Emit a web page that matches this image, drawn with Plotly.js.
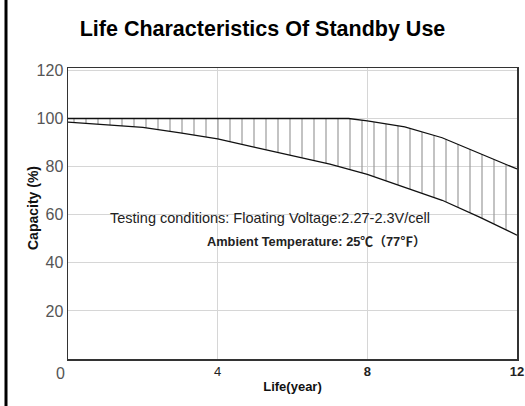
<!DOCTYPE html>
<html>
<head>
<meta charset="utf-8">
<script src="https://cdn.plot.ly/plotly-3.0.1.min.js"></script>
<style>html,body{margin:0;padding:0;background:#fff;}#chart{width:525px;height:406px;}</style>
</head>
<body>
<div id="chart"></div>
<script>
// Data
var upperYears = [0, 1, 2, 3, 4, 5, 6, 7, 7.5, 8, 9, 10, 11, 12];
var upperCapacity = [100, 100, 100, 100, 100, 100, 100, 100, 100, 99, 96.5, 92, 85.5, 79];
var lowerYears = [0, 1, 2, 3, 4, 5, 6, 7, 8, 9, 10, 11, 12];
var lowerCapacity = [98.5, 97.5, 96.3, 94, 91.5, 88, 84.5, 81, 76.8, 71.5, 66, 59, 51.5];
var xTickVals = [4, 8, 12];
var xTickLabels = ["4", "8", "12"];
var yTickVals = [20, 40, 60, 80, 100, 120];
var yTickLabels = ["20", "40", "60", "80", "100", "120"];
var zeroLabel = "0";
var titleText = "Life Characteristics Of Standby Use";
var xTitle = "Life(year)";
var yTitle = "Capacity (%)";
var noteLine1 = "Testing conditions: Floating Voltage:2.27-2.3V/cell";
var noteLine2 = "Ambient Temperature: 25℃（77℉）";

var traces = [
  {x: lowerYears, y: lowerCapacity, mode: 'lines', line: {color: '#111', width: 1.3}, hoverinfo: 'skip', showlegend: false},
  {x: upperYears, y: upperCapacity, mode: 'lines', line: {color: '#111', width: 1.3}, fill: 'tonexty',
   fillcolor: 'rgba(0,0,0,0)',
   fillpattern: {shape: '|', size: 12, solidity: 0.1, fgcolor: '#9a9a9a', bgcolor: 'rgba(255,255,255,0)'},
   hoverinfo: 'skip', showlegend: false}
];

var xTickText = xTickLabels.map(function(t, i){ return i === 0 ? t : '<b>' + t + '</b>'; });

// pixel helpers for annotation placement (plot area 68..517 x, 68..359 y)
function px2paperX(p){ return (p - 68) / 449; }
function px2paperY(p){ return (359 - p) / 291; }

var layout = {
  width: 525, height: 406,
  margin: {l: 68, r: 8, t: 68, b: 47},
  paper_bgcolor: '#fff', plot_bgcolor: '#fff',
  title: {text: '<b>' + titleText + '</b>', x: 0.5, xref: 'container', xanchor: 'center', y: 0.93, yanchor: 'middle',
          font: {family: 'Liberation Sans, Arial, sans-serif', size: 21.5, color: '#000'}},
  xaxis: {range: [0, 12], tickvals: xTickVals, ticktext: xTickText, showgrid: true, gridcolor: '#d6d6d6', gridwidth: 1,
          zeroline: false, showline: true, linecolor: '#333', linewidth: 1.5, mirror: true, ticks: '',
          tickfont: {family: 'Liberation Sans, Arial, sans-serif', size: 13, color: '#222'},
          title: {text: '<b>' + xTitle + '</b>', standoff: 4, font: {family: 'Liberation Sans, sans-serif', size: 13, color: '#111'}}},
  yaxis: {range: [0, 121], tickvals: yTickVals, ticktext: yTickLabels, showgrid: true, gridcolor: '#d6d6d6', gridwidth: 1,
          zeroline: false, showline: true, linecolor: '#333', linewidth: 1.5, mirror: true, ticks: '',
          tickfont: {family: 'Liberation Sans, sans-serif', size: 16, color: '#555'}},
  annotations: [
    {text: zeroLabel, x: 0, y: 0, xref: 'x', yref: 'y', xanchor: 'center', yanchor: 'middle', xshift: -8, yshift: -14,
     showarrow: false, font: {family: 'Liberation Sans, sans-serif', size: 16, color: '#555'}},
    {text: noteLine1, x: px2paperX(432), y: px2paperY(218), xref: 'paper', yref: 'paper', xanchor: 'right', yanchor: 'middle', showarrow: false,
     font: {family: 'Liberation Sans, Arial, sans-serif', size: 14.5, color: '#222'}},
    {text: '<b>' + noteLine2 + '</b>', x: px2paperX(428), y: px2paperY(241), xref: 'paper', yref: 'paper', xanchor: 'right', yanchor: 'middle', showarrow: false,
     font: {family: 'Liberation Sans, Noto Sans CJK SC, sans-serif', size: 12.8, color: '#222'}},
    {text: '<b>' + yTitle + '</b>', x: px2paperX(33), y: px2paperY(208), xref: 'paper', yref: 'paper', xanchor: 'center', yanchor: 'middle',
     textangle: -90, showarrow: false, font: {family: 'Liberation Sans, sans-serif', size: 14, color: '#111'}}
  ],
  shapes: [
    {type: 'line', xref: 'paper', yref: 'paper', x0: px2paperX(6), x1: px2paperX(6), y0: -0.3, y1: 1.4, line: {color: '#000', width: 3}}
  ]
};

Plotly.newPlot('chart', traces, layout, {displayModeBar: false, staticPlot: true});
</script>
</body>
</html>
